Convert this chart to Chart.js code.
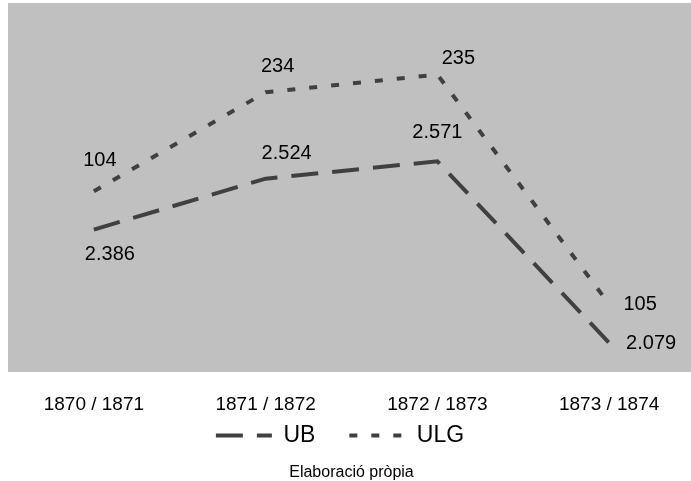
<!DOCTYPE html>
<html>
<head>
<meta charset="utf-8">
<script src="https://cdn.jsdelivr.net/npm/chart.js@4/dist/chart.umd.min.js"></script>
<style>
  body { margin: 0; background: #fff; overflow: hidden; }
  #wrap { width: 691px; height: 481px; overflow: hidden; }
</style>
</head>
<body>
<div id="wrap"><canvas id="chart" width="695" height="481"></canvas></div>
<script>
// Data (ULG is stacked on top of UB)
const years = ['1870 / 1871', '1871 / 1872', '1872 / 1873', '1873 / 1874'];
const ubValues = [2386, 2524, 2571, 2079];
const ulgValues = [104, 234, 235, 105];

// label offsets from each point, in px
const ubLabelOffsets = [[16, 25], [21, -25], [0, -29], [42, 1]];
const ulgLabelOffsets = [[6, -31], [12, -26], [21, -16], [31, 0]];

const fontFamily = '"Liberation Sans", Arial, sans-serif';

function formatNum(v) {
    return String(v).replace(/\B(?=(\d{3})+(?!\d))/g, '.');
}

// grey plot background
const plotBg = {
    id: 'plotBg',
    beforeDraw(chart) {
        const a = chart.chartArea;
        const ctx = chart.ctx;
        ctx.save();
        ctx.fillStyle = '#c0c0c0';
        ctx.fillRect(a.left, a.top, a.right - a.left, a.bottom - a.top);
        ctx.restore();
    }
};

// value labels next to each point
const valueLabels = {
    id: 'valueLabels',
    afterDatasetsDraw(chart) {
        const ctx = chart.ctx;
        const sets = [[0, ubValues, ubLabelOffsets], [1, ulgValues, ulgLabelOffsets]];
        ctx.save();
        ctx.font = '20px ' + fontFamily;
        ctx.fillStyle = '#000';
        ctx.textAlign = 'center';
        ctx.textBaseline = 'middle';
        sets.forEach(([di, vals, offs]) => {
            const meta = chart.getDatasetMeta(di);
            meta.data.forEach((pt, i) => {
                ctx.fillText(formatNum(vals[i]), pt.x + offs[i][0], pt.y + offs[i][1]);
            });
        });
        ctx.restore();
    }
};

new Chart(document.getElementById('chart').getContext('2d'), {
    type: 'line',
    data: {
        labels: years,
        datasets: [{
            label: 'UB',
            data: ubValues,
            borderColor: '#404040',
            backgroundColor: '#404040',
            borderWidth: 4,
            borderDash: [27, 14],
            borderCapStyle: 'butt',
            pointRadius: 0,
            tension: 0,
            fill: false
        }, {
            label: 'ULG',
            data: ulgValues,
            borderColor: '#404040',
            backgroundColor: '#404040',
            borderWidth: 4,
            borderDash: [8, 14],
            borderCapStyle: 'butt',
            pointRadius: 0,
            tension: 0,
            fill: false
        }]
    },
    options: {
        responsive: false,
        animation: false,
        layout: { padding: { left: 8, top: 3, right: 0, bottom: 0 } },
        scales: {
            x: {
                offset: true,
                grid: { display: false, drawTicks: false },
                border: { display: false },
                ticks: { color: '#000', padding: 23, font: { size: 19, lineHeight: 1, family: fontFamily } },
                afterFit(scale) { scale.height = 41; }
            },
            y: {
                stacked: true,
                display: false,
                min: 2000,
                max: 3000
            }
        },
        plugins: {
            legend: {
                position: 'bottom',
                labels: {
                    usePointStyle: true,
                    pointStyle: 'line',
                    pointStyleWidth: 56,
                    boxHeight: 23,
                    padding: 11,
                    color: '#000',
                    font: { size: 23, family: fontFamily },
                    generateLabels(chart) {
                        const items = Chart.defaults.plugins.legend.labels.generateLabels(chart);
                        items.forEach((it, i) => {
                            const ds = chart.data.datasets[i];
                            it.lineDash = ds.borderDash;
                            it.lineWidth = ds.borderWidth;
                            it.strokeStyle = ds.borderColor;
                            it.text = ds.label + '\u2003';
                        });
                        return items;
                    }
                }
            },
            title: {
                display: true,
                position: 'bottom',
                text: 'Elaboració pròpia',
                color: '#000',
                font: { size: 16, weight: 'normal', lineHeight: 1, family: fontFamily },
                padding: { top: 8, bottom: 0 }
            },
            tooltip: { enabled: false }
        }
    },
    plugins: [plotBg, valueLabels]
});
</script>
</body>
</html>
